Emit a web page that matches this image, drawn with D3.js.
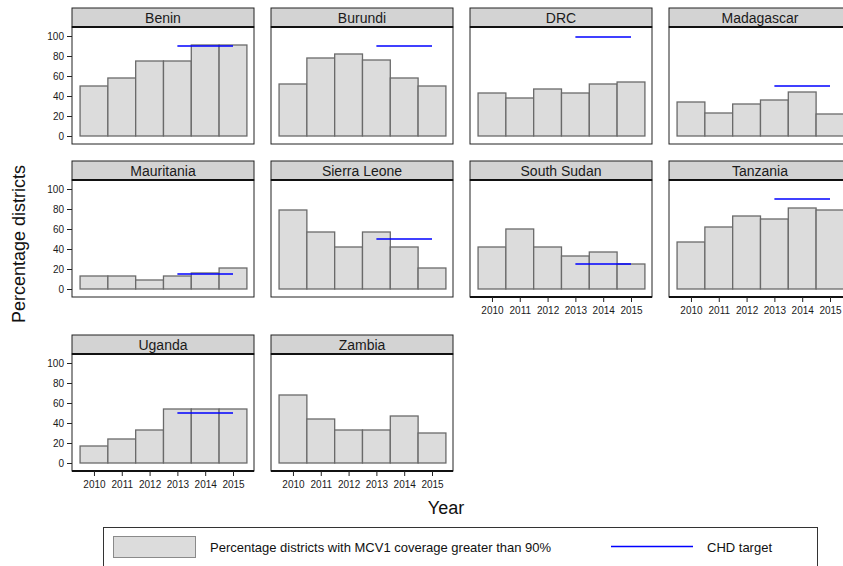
<!DOCTYPE html>
<html>
<head>
<meta charset="utf-8">
<script src="https://cdn.jsdelivr.net/npm/d3@7"></script>
<style>
  html, body { margin: 0; padding: 0; background: #fff; }
  svg { display: block; font-family: "Liberation Sans", Arial, sans-serif; }
</style>
</head>
<body>
<svg id="chart" width="843" height="566"></svg>
<script>
// Share of districts with MCV1 coverage above 90%, by country and year
const years = [2010, 2011, 2012, 2013, 2014, 2015];
const countries = ["Benin", "Burundi", "DRC", "Madagascar", "Mauritania",
                   "Sierra Leone", "South Sudan", "Tanzania", "Uganda", "Zambia"];

const benin       = [50, 58, 75, 75, 91, 91];
const burundi     = [52, 78, 82, 76, 58, 50];
const drc         = [43, 38, 47, 43, 52, 54];
const madagascar  = [34, 23, 32, 36, 44, 22];
const mauritania  = [13, 13, 9, 13, 16, 21];
const sierraLeone = [79, 57, 42, 57, 42, 21];
const southSudan  = [42, 60, 42, 33, 37, 25];
const tanzania    = [47, 62, 73, 70, 81, 79];
const uganda      = [17, 24, 33, 54, 54, 54];
const zambia      = [68, 44, 33, 33, 47, 30];

// CHD target level (drawn from 2013 to 2015); Zambia has none
const targets = [90, 90, 99, 50, 15, 50, 25, 90, 50, null];
const targetYears = [2013, 2015];

const yTicks = [0, 20, 40, 60, 80, 100];

const seriesValues = [benin, burundi, drc, madagascar, mauritania,
                      sierraLeone, southSudan, tanzania, uganda, zambia];

// ---- layout ----
const colX = [72, 271, 470, 669];
const rowTop = [8, 161, 335];
const panelW = 182, stripH = 19, plotH = 117;
const ncol = 4;

// panels whose bottom edge carries the year axis
const withXAxis = new Set(["South Sudan", "Tanzania", "Uganda", "Zambia"]);

const x = d3.scaleLinear().domain([2009.21, 2015.755]).range([0, panelW]);
const y = d3.scaleLinear().domain([-8, 109]).range([plotH, 0]);

const svg = d3.select("#chart");

const panels = countries.map((name, i) => ({
  name,
  values: seriesValues[i],
  target: targets[i],
  col: i % ncol,
  row: Math.floor(i / ncol)
}));

panels.forEach(p => {
  const g = svg.append("g")
    .attr("transform", `translate(${colX[p.col]},${rowTop[p.row]})`);

  // strip
  g.append("rect")
    .attr("x", 0).attr("y", 0)
    .attr("width", panelW).attr("height", stripH)
    .attr("fill", "#d3d3d3")
    .attr("stroke", "#222").attr("stroke-width", 1);
  g.append("text")
    .attr("x", panelW / 2).attr("y", stripH / 2 + 5)
    .attr("text-anchor", "middle")
    .attr("font-size", 14)
    .attr("fill", "#1a1a1a")
    .text(p.name);

  const plot = g.append("g").attr("transform", `translate(0,${stripH})`);

  // panel background
  plot.append("rect")
    .attr("x", 0).attr("y", 0)
    .attr("width", panelW).attr("height", plotH)
    .attr("fill", "#fff");

  // bars
  plot.selectAll("rect.bar")
    .data(years.map((yr, k) => ({ yr, v: p.values[k] })))
    .join("rect")
    .attr("class", "bar")
    .attr("x", d => x(d.yr - 0.5))
    .attr("width", d => x(d.yr + 0.5) - x(d.yr - 0.5))
    .attr("y", d => y(d.v))
    .attr("height", d => y(0) - y(d.v))
    .attr("fill", "#dcdcdc")
    .attr("stroke", "#6a6a6a")
    .attr("stroke-width", 1.3);

  // CHD target
  if (p.target !== null) {
    plot.append("line")
      .attr("x1", x(targetYears[0])).attr("x2", x(targetYears[1]))
      .attr("y1", y(p.target)).attr("y2", y(p.target))
      .attr("stroke", "#0000ff")
      .attr("stroke-width", 1.4);
  }

  // frame
  plot.append("rect")
    .attr("x", 0).attr("y", 0)
    .attr("width", panelW).attr("height", plotH)
    .attr("fill", "none")
    .attr("stroke", "#222").attr("stroke-width", 1);
  plot.append("line")
    .attr("x1", 0).attr("x2", panelW)
    .attr("y1", 0).attr("y2", 0)
    .attr("stroke", "#111").attr("stroke-width", 2);

  // y axis on the first column
  if (p.col === 0) {
    const ya = plot.append("g")
      .call(d3.axisLeft(y).tickValues(yTicks).tickSize(5).tickPadding(3));
    ya.select(".domain").remove();
    ya.selectAll("line").attr("stroke", "#222");
    ya.selectAll("text")
      .attr("font-size", 10)
      .attr("font-family", "Liberation Sans, Arial, sans-serif")
      .attr("fill", "#1a1a1a");
  }

  // x axis where a panel closes its column
  if (withXAxis.has(p.name)) {
    plot.append("line")
      .attr("x1", 0).attr("x2", panelW)
      .attr("y1", plotH).attr("y2", plotH)
      .attr("stroke", "#111").attr("stroke-width", 2);
    const xa = plot.append("g")
      .attr("transform", `translate(0,${plotH})`)
      .call(d3.axisBottom(x).tickValues(years).tickFormat(d3.format("d"))
        .tickSize(5).tickPadding(5));
    xa.select(".domain").remove();
    xa.selectAll("line").attr("stroke", "#222");
    xa.selectAll("text")
      .attr("font-size", 10)
      .attr("font-family", "Liberation Sans, Arial, sans-serif")
      .attr("fill", "#1a1a1a");
  }
});

// axis titles
svg.append("text")
  .attr("transform", "translate(25,244) rotate(-90)")
  .attr("text-anchor", "middle")
  .attr("font-size", 18)
  .attr("fill", "#111")
  .text("Percentage districts");

svg.append("text")
  .attr("x", 446).attr("y", 514)
  .attr("text-anchor", "middle")
  .attr("font-size", 18)
  .attr("fill", "#111")
  .text("Year");

// legend
const lg = svg.append("g");
lg.append("rect")
  .attr("x", 103.5).attr("y", 527.5)
  .attr("width", 714).attr("height", 50)
  .attr("fill", "#fff")
  .attr("stroke", "#333").attr("stroke-width", 1);
lg.append("rect")
  .attr("x", 113.5).attr("y", 536.5)
  .attr("width", 82).attr("height", 21)
  .attr("fill", "#dcdcdc")
  .attr("stroke", "#8a8a8a").attr("stroke-width", 1);
lg.append("text")
  .attr("x", 210).attr("y", 551.5)
  .attr("font-size", 13)
  .attr("fill", "#111")
  .text("Percentage districts with MCV1 coverage greater than 90%");
lg.append("line")
  .attr("x1", 611).attr("x2", 693)
  .attr("y1", 546.5).attr("y2", 546.5)
  .attr("stroke", "#0000ff").attr("stroke-width", 1.6);
lg.append("text")
  .attr("x", 707).attr("y", 551.5)
  .attr("font-size", 13)
  .attr("fill", "#111")
  .text("CHD target");
</script>
</body>
</html>
